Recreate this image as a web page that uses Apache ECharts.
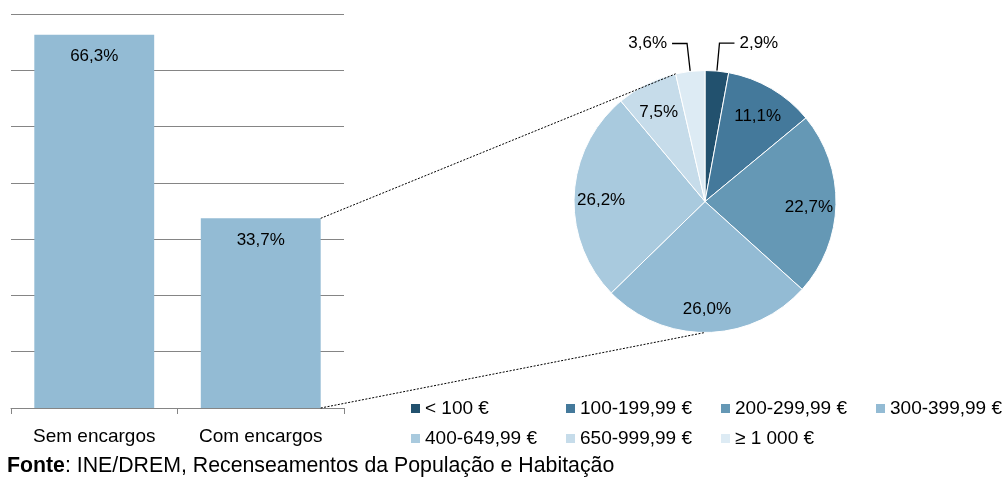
<!DOCTYPE html>
<html>
<head>
<meta charset="utf-8">
<script src="https://cdn.jsdelivr.net/npm/echarts@6/dist/echarts.min.js"></script>
<style>
  html, body { margin: 0; padding: 0; background: #fff; }
  #chart { width: 1008px; height: 477px; }
</style>
</head>
<body>
<div id="chart"></div>
<script>
// Households by rent charges (bars) and breakdown of those with charges by amount (pie)
const categories = ['Sem encargos', 'Com encargos'];
const shares = [66.3, 33.7];

const bands = ['< 100 €', '100-199,99 €', '200-299,99 €', '300-399,99 €',
               '400-649,99 €', '650-999,99 €', '≥ 1 000 €'];
const bandShares = [2.9, 11.1, 22.7, 26.0, 26.2, 7.5, 3.6];
const bandColors = ['#22516e', '#44799b', '#6598b5', '#93bbd4', '#a9cade', '#c6dcea', '#ddebf4'];

const axisMax = 70;
const axisStep = 10;
const sourceLabel = 'Fonte';
const sourceText = ': INE/DREM, Recenseamentos da População e Habitação';

const FONT = '"Liberation Sans", Arial, sans-serif';
const pct = v => v.toFixed(1).replace('.', ',') + '%';

const PIE_CX = 705, PIE_CY = 201.5, PIE_R = 131;

const chart = echarts.init(document.getElementById('chart'), null, { renderer: 'canvas' });

// legend: one entry per cell of a 4-column grid
const LEGEND_COLS = 4, LEGEND_LEFT = 411, LEGEND_COL_W = 155, LEGEND_TOP = 399, LEGEND_ROW_H = 30;
const legends = bands.map((name, i) => ({
  left: LEGEND_LEFT + (i % LEGEND_COLS) * LEGEND_COL_W,
  top: LEGEND_TOP + Math.floor(i / LEGEND_COLS) * LEGEND_ROW_H,
  padding: 0, itemGap: 0,
  itemWidth: 9, itemHeight: 9, icon: 'rect',
  selectedMode: false,
  itemStyle: { borderWidth: 0 },
  data: [name],
  textStyle: { fontFamily: FONT, fontSize: 19, color: '#000' }
}));

chart.setOption({
  animation: false,
  textStyle: { fontFamily: FONT },
  title: {
    left: 7, top: 456, padding: 0,
    text: '{b|' + sourceLabel + '}' + sourceText,
    textStyle: {
      fontFamily: FONT, fontSize: 21.3, fontWeight: 'normal', color: '#000',
      rich: { b: { fontFamily: FONT, fontSize: 21.3, fontWeight: 'bold', color: '#000' } }
    }
  },
  legend: legends,
  grid: { left: 11, top: 14, width: 333, height: 394, containLabel: false },
  xAxis: {
    type: 'category',
    data: categories,
    axisLine: { lineStyle: { color: '#858585', width: 1 } },
    axisTick: { show: true, length: 6, lineStyle: { color: '#858585' } },
    axisLabel: { fontFamily: FONT, fontSize: 19, color: '#000', margin: 19 }
  },
  yAxis: {
    type: 'value',
    min: 0, max: axisMax, interval: axisStep,
    axisLine: { show: false },
    axisTick: { show: false },
    axisLabel: { show: false },
    splitLine: { lineStyle: { color: '#858585', width: 1 } }
  },
  series: [
    {
      type: 'bar',
      data: shares,
      barCategoryGap: '28%',
      itemStyle: { color: '#93bbd4' },
      label: {
        show: true, position: 'insideTop', distance: 13,
        fontFamily: FONT, fontSize: 17, color: '#000',
        formatter: p => pct(p.value)
      }
    },
    {
      type: 'pie',
      center: [PIE_CX, PIE_CY],
      radius: [0, PIE_R],
      startAngle: 90,
      clockwise: true,
      avoidLabelOverlap: false,
      itemStyle: { borderColor: '#fff', borderWidth: 1 },
      emphasis: { disabled: true },
      label: {
        position: 'outside', distanceToLabelLine: 5,
        fontFamily: FONT, fontSize: 17, color: '#000',
        formatter: p => pct(p.value)
      },
      labelLine: { length: 28, length2: 15, smooth: false, lineStyle: { color: '#000', width: 1.3 } },
      data: bands.map((name, i) => ({
        name,
        value: bandShares[i],
        itemStyle: { color: bandColors[i] },
        label: { show: bandShares[i] < 5 },
        labelLine: { show: bandShares[i] < 5 }
      }))
    },
    {
      // transparent ring that carries the in-slice value labels
      type: 'pie',
      center: [PIE_CX, PIE_CY],
      radius: [72, 130],
      startAngle: 90,
      clockwise: true,
      silent: true,
      z: 3,
      emphasis: { disabled: true },
      itemStyle: { color: 'rgba(0,0,0,0)' },
      labelLine: { show: false },
      label: {
        position: 'inside',
        fontFamily: FONT, fontSize: 17, color: '#000',
        formatter: p => pct(p.value)
      },
      labelLayout: () => ({ dy: 2 }),
      data: bandShares.map(v => ({ value: v, label: { show: v >= 5 } }))
    }
  ]
});

// Dotted connectors from the "Com encargos" bar to the pie
function drawConnectors() {
  const barData = chart.getModel().getSeriesByIndex(0).getData();
  const lay = barData.getItemLayout(1);
  const barRight = lay.x + lay.width;
  const barTop = lay.y + lay.height;
  const barBase = lay.y;

  // boundary where the last slice starts (clockwise from 12 o'clock)
  const total = bandShares.reduce((a, b) => a + b, 0);
  const before = bandShares.slice(0, bandShares.length - 1).reduce((a, b) => a + b, 0);
  const ang = -Math.PI / 2 + (before / total) * Math.PI * 2;
  const topX = PIE_CX + PIE_R * Math.cos(ang);
  const topY = PIE_CY + PIE_R * Math.sin(ang);

  const dash = { stroke: '#000', lineWidth: 1, lineDash: [2, 1.5], fill: null };
  chart.setOption({
    graphic: [
      { type: 'line', silent: true, z: 10,
        shape: { x1: barRight, y1: barTop, x2: topX, y2: topY }, style: dash },
      { type: 'line', silent: true, z: 10,
        shape: { x1: barRight, y1: barBase, x2: PIE_CX, y2: PIE_CY + PIE_R }, style: dash }
    ]
  });
}
drawConnectors();
</script>
</body>
</html>
